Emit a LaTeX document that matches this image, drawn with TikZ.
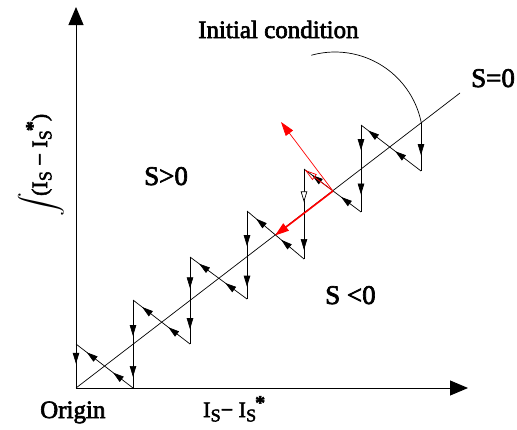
\documentclass[tikz,border=0pt]{standalone}
\usepackage{amsmath}
\usepackage{fontspec}
\setmainfont{Liberation Serif}[FakeBold=2.5]
\usetikzlibrary{arrows.meta,decorations.markings}
\newcommand\IsSub{I\kern0.2pt\raisebox{-0.2em}{\fontsize{18}{18}\selectfont S}}
\newcommand\IsStar{\IsSub\kern-1pt\raisebox{0.35em}{\fontsize{20}{20}\selectfont\bfseries *}}
\begin{document}
\begin{tikzpicture}[x=1pt,y=-1pt,
  blk/.tip={Triangle[length=11pt,width=6.5pt]},
  hol/.tip={Triangle[length=11pt,width=6.5pt,fill=white]},
  axis/.style={line width=0.9pt,-{Triangle[length=18pt,width=15pt]}},
  traj/.style={line width=0.7pt},
  mone/.style={traj,postaction={decorate,decoration={markings,
      mark=at position #1 with {\arrow{blk}}}}},
  mtwo/.style 2 args={traj,postaction={decorate,decoration={markings,
      mark=at position #1 with {\arrow{blk}},
      mark=at position #2 with {\arrow{blk}}}}},
  redtip/.tip={Triangle[length=14pt,width=9pt]},
  lab/.style={inner sep=0pt,anchor=base west},
]
\useasboundingbox (0,0) rectangle (517,429);
% axes
\coordinate (O) at (76,388);
\coordinate (Ytop) at (76,7);
\coordinate (Xend) at (468,388);
\draw[axis] (O) -- (Ytop);
\draw[axis] (O) -- (Xend);
% switching line S=0
\coordinate (Send) at (460,93);
\draw[line width=0.7pt] (O) -- (Send);
% initial condition arc
\draw[line width=0.7pt] plot[domain=105.6:11.2,samples=40,smooth] ({335+88*cos(\x)},{140-88*sin(\x)});
% zigzag points
\coordinate (A6) at (421,123);
\coordinate (B6) at (421,171);
\coordinate (T5) at (361,125); \coordinate (B5) at (361,212);
\coordinate (T4) at (304,169); \coordinate (B4) at (304,259);
\coordinate (T3) at (247,211); \coordinate (B3) at (247,299);
\coordinate (T2) at (190,257); \coordinate (B2) at (190,344);
\coordinate (T1) at (133,300); \coordinate (B1) at (133,388);
\coordinate (T0) at (76,344);  \coordinate (B0) at (76,388);
\draw[mone=0.67] (A6) -- (B6);
\draw[mtwo={0.43}{0.88}] (B6) -- (T5);
\draw[mtwo={0.29}{0.8}] (T5) -- (B5);
\draw[mtwo={0.35}{0.86}] (B5) -- (T4);
\draw[traj,postaction={decorate,decoration={markings,
      mark=at position 0.37 with {\arrow{hol}},
      mark=at position 0.9 with {\arrow{blk}}}}] (T4) -- (B4);
\draw[mtwo={0.4}{0.84}] (B4) -- (T3);
\draw[mtwo={0.4}{0.86}] (T3) -- (B3);
\draw[mtwo={0.38}{0.84}] (B3) -- (T2);
\draw[mtwo={0.36}{0.83}] (T2) -- (B2);
\draw[mtwo={0.38}{0.84}] (B2) -- (T1);
\draw[mtwo={0.41}{0.875}] (T1) -- (B1);
\draw[mtwo={0.35}{0.81}] (B1) -- (T0);
\draw[mone=0.45] (T0) -- (B0);
% red vectors
\coordinate (P) at (333,191);
\coordinate (Rs) at (275,235.5);
\coordinate (Rn) at (281,122);
\coordinate (Rd) at (305,170);
\draw[red,line width=1.6pt,-redtip] (P) -- (Rs);
\draw[red,line width=0.7pt,-redtip] (P) -- (Rn);
\draw[red,line width=0.7pt,-{Triangle[open,length=12pt,width=7pt]}] (P) -- (Rd);
% labels
\node[lab,font=\fontsize{25}{25}\selectfont] (ic) at (198,38) {Initial condition};
\node[lab,font=\fontsize{27}{27}\selectfont] (s0) at (471,87) {S=0};
\node[lab,font=\fontsize{27}{27}\selectfont] (sp) at (144,185) {S>0};
\node[lab,font=\fontsize{27}{27}\selectfont] (sn) at (325,304) {S <0};
\node[lab,font=\fontsize{25}{25}\selectfont] (orig) at (40,418) {Origin};
\node[lab,font=\fontsize{22}{22}\selectfont] (xl) at (203,417) {\IsSub−\ \IsStar};
\node[lab,rotate=90,font=\fontsize{22}{22}\selectfont] (yl) at (47,217) {\raisebox{1pt}{\scalebox{1.15}[1]{$\displaystyle\int$}}\kern-3pt(\IsSub\ −\ \IsStar)};
\end{tikzpicture}
\end{document}
